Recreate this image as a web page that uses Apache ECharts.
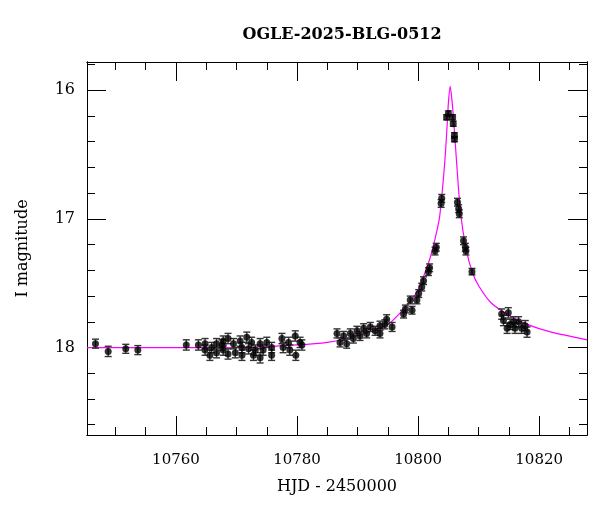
<!DOCTYPE html>
<html>
<head>
<meta charset="utf-8">
<script src="https://cdn.jsdelivr.net/npm/echarts@6/dist/echarts.min.js"></script>
<style>html,body{margin:0;padding:0;background:#fff}#chart{width:600px;height:512px}</style>
</head>
<body>
<div id="chart"></div>
<script>
'use strict';

// photometry: HJD-2450000, I mag, error
var obsHjd = [10746.7, 10748.8, 10751.7, 10753.7, 10761.7, 10763.7,
    10764.8, 10764.8, 10765.6, 10765.9, 10766.7, 10766.7, 10767.6, 10767.8, 10767.8, 10768.6, 10768.6,
    10769.5, 10769.8, 10770.6, 10770.9, 10770.9, 10771.7, 10772.0, 10772.5, 10772.8, 10773.1, 10773.9,
    10773.9, 10774.4, 10775.0, 10775.8, 10775.8,
    10777.5, 10777.7, 10778.6, 10778.8, 10779.7, 10779.8, 10780.5, 10780.8,
    10786.6, 10787.1, 10787.7, 10788.2, 10788.8, 10789.3, 10789.9, 10790.4, 10791.0, 10791.5, 10792.1,
    10792.9, 10793.7, 10793.7, 10794.5, 10794.8, 10795.7,
    10797.6, 10797.9, 10798.7, 10799.0, 10799.8, 10800.1, 10800.6, 10800.9, 10801.7, 10801.9, 10802.8,
    10803.0, 10803.8, 10803.9, 10804.7, 10805.0, 10805.7, 10805.8, 10806.0, 10806.0,
    10806.5, 10806.7, 10806.8, 10807.5, 10807.8, 10807.9, 10808.9,
    10813.8, 10814.1, 10814.7, 10814.9, 10815.2, 10815.8, 10816.0, 10816.6, 10817.1, 10817.7, 10818.0];
var obsMag = [17.97, 18.03, 18.01, 18.02, 17.98, 17.98,
    17.97, 18.02, 18.06, 18.00, 17.97, 18.04, 17.98, 17.95, 18.02, 17.93, 18.05,
    17.97, 18.04, 17.95, 18.00, 18.06, 17.92, 18.01, 17.96, 18.06, 18.02, 17.97,
    18.08, 18.02, 17.96, 18.00, 18.06,
    17.93, 18.00, 17.96, 18.02, 17.91, 18.06, 17.96, 17.98,
    17.89, 17.96, 17.91, 17.97, 17.89, 17.93, 17.87, 17.91, 17.85, 17.89, 17.84,
    17.87, 17.83, 17.89, 17.82, 17.78, 17.84,
    17.74, 17.70, 17.63, 17.71, 17.63, 17.58, 17.53, 17.48, 17.41, 17.38, 17.25,
    17.22, 16.88, 16.84, 16.21, 16.18, 16.21, 16.26, 16.35, 16.38,
    16.87, 16.92, 16.96, 17.17, 17.22, 17.25, 17.41,
    17.74, 17.79, 17.85, 17.73, 17.82, 17.80, 17.85, 17.80, 17.85, 17.83, 17.88];
var obsErr = [0.035, 0.04, 0.035, 0.035, 0.04, 0.04,
    0.04, 0.04, 0.04, 0.04, 0.04, 0.04, 0.04, 0.04, 0.04, 0.04, 0.04,
    0.04, 0.04, 0.04, 0.04, 0.04, 0.04, 0.04, 0.04, 0.04, 0.04, 0.04,
    0.04, 0.04, 0.04, 0.04, 0.04,
    0.04, 0.04, 0.04, 0.04, 0.04, 0.04, 0.04, 0.04,
    0.035, 0.035, 0.035, 0.035, 0.035, 0.035, 0.035, 0.035, 0.035, 0.035, 0.035,
    0.035, 0.035, 0.035, 0.035, 0.035, 0.035,
    0.03, 0.03, 0.03, 0.03, 0.03, 0.03, 0.03, 0.03, 0.03, 0.03, 0.03,
    0.03, 0.03, 0.03, 0.02, 0.02, 0.02, 0.02, 0.02, 0.02,
    0.03, 0.03, 0.03, 0.03, 0.03, 0.03, 0.025,
    0.04, 0.04, 0.04, 0.04, 0.04, 0.04, 0.04, 0.04, 0.04, 0.04, 0.04];

// model curve
var modelHjd = [10745.3, 10760, 10770, 10780, 10785, 10790, 10795, 10798, 10800, 10802, 10803.5,
    10804.3, 10804.7, 10805.0, 10805.3, 10805.6, 10805.9, 10806.3, 10807, 10808, 10809, 10810,
    10812, 10815, 10818, 10822, 10827.9];
var modelMag = [18.0, 18.0, 18.0, 17.98, 17.96, 17.91, 17.82, 17.68, 17.55, 17.3, 17.0,
    16.62, 16.35, 16.1, 15.97, 16.08, 16.25, 16.52, 16.95, 17.25, 17.42, 17.52,
    17.65, 17.75, 17.82, 17.88, 17.94];

var xMajor = [10760, 10780, 10800, 10820];
var xMinor = [10750, 10755, 10765, 10770, 10775, 10785, 10790, 10795, 10805, 10810, 10815, 10825];
var yMajor = [16, 17, 18];
var yMinor = [15.8, 16.2, 16.4, 16.6, 16.8, 17.2, 17.4, 17.6, 17.8, 18.2, 18.4, 18.6];

var xMin = 10745.3, xMax = 10827.9, yMin = 15.78, yMax = 18.68;
var font = '"DejaVu Serif", "Liberation Serif", serif';

var chart = echarts.init(document.getElementById('chart'));

function plain(v) { return String(v); }

function makeX(pos, ticks, len, withLabels) {
    return {
        type: 'value', position: pos, min: xMin, max: xMax,
        axisLine: { show: true, lineStyle: { color: '#000', width: 1 } },
        axisTick: { inside: true, length: len, customValues: ticks, lineStyle: { color: '#000' } },
        axisLabel: withLabels ? { customValues: ticks, formatter: plain, color: '#000', fontFamily: font, fontSize: 15, margin: 18 } : { show: false },
        splitLine: { show: false }
    };
}
function makeY(pos, ticks, len, withLabels) {
    return {
        type: 'value', position: pos, inverse: true, min: yMin, max: yMax,
        axisLine: { show: true, lineStyle: { color: '#000', width: 1 } },
        axisTick: { inside: true, length: len, customValues: ticks, lineStyle: { color: '#000' } },
        axisLabel: withLabels ? { customValues: ticks, formatter: plain, color: '#000', fontFamily: font, fontSize: 16, margin: 12 } : { show: false },
        splitLine: { show: false }
    };
}

var points = obsHjd.map(function (t, i) { return [t, obsMag[i], obsErr[i]]; });
var model = modelHjd.map(function (t, i) { return [t, modelMag[i]]; });

var xBottom = makeX('bottom', xMajor, 19, true);
xBottom.name = 'HJD - 2450000';
xBottom.nameLocation = 'middle';
xBottom.nameGap = 44;
xBottom.nameTextStyle = { color: '#000', fontFamily: font, fontSize: 16 };
var yLeft = makeY('left', yMajor, 19, true);
yLeft.name = 'I magnitude';
yLeft.nameLocation = 'middle';
yLeft.nameGap = 56;
yLeft.nameTextStyle = { color: '#000', fontFamily: font, fontSize: 16 };

chart.setOption({
    backgroundColor: '#fff',
    animation: false,
    title: {
        text: 'OGLE-2025-BLG-0512', left: 337, top: 22, textAlign: 'center',
        textStyle: { color: '#000', fontFamily: font, fontSize: 16, fontWeight: 'bold' }
    },
    grid: { left: 87, right: 13, top: 62, bottom: 77 },
    xAxis: [xBottom, makeX('bottom', xMinor, 8, false), makeX('top', xMajor, 19, false), makeX('top', xMinor, 8, false)],
    yAxis: [yLeft, makeY('left', yMinor, 8, false), makeY('right', yMajor, 19, false), makeY('right', yMinor, 8, false)],
    series: [
        {
            type: 'line', data: model, showSymbol: false, smooth: 0.2,
            lineStyle: { color: '#ff00ff', width: 1.2 }, z: 2
        },
        {
            type: 'custom', data: points, z: 3,
            renderItem: function (params, api) {
                var t = api.value(0), m = api.value(1), e = api.value(2);
                var top = api.coord([t, m - e]);
                var bot = api.coord([t, m + e]);
                var style = { stroke: '#333', lineWidth: 1.4 };
                return {
                    type: 'group',
                    children: [
                        { type: 'line', shape: { x1: top[0], y1: top[1], x2: bot[0], y2: bot[1] }, style: style },
                        { type: 'line', shape: { x1: top[0] - 3.5, y1: top[1], x2: top[0] + 3.5, y2: top[1] }, style: style },
                        { type: 'line', shape: { x1: bot[0] - 3.5, y1: bot[1], x2: bot[0] + 3.5, y2: bot[1] }, style: style }
                    ]
                };
            }
        },
        {
            type: 'scatter', data: points, symbolSize: 7, z: 4,
            itemStyle: { color: '#000' }
        }
    ]
});
</script>
</body>
</html>
